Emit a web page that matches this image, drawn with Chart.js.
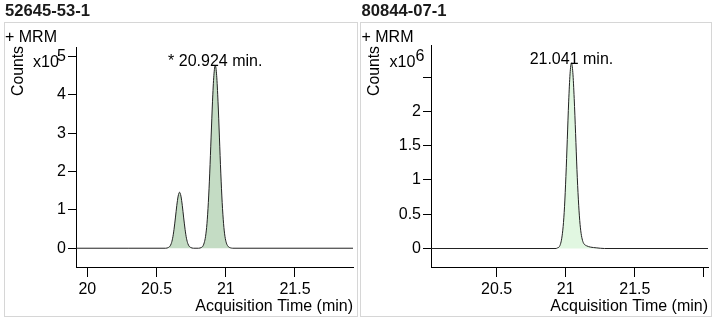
<!DOCTYPE html>
<html>
<head>
<meta charset="utf-8">
<script src="https://cdn.jsdelivr.net/npm/chart.js@4.4.0/dist/chart.umd.min.js"></script>
<style>
body{margin:0;width:716px;height:323px;background:#fff;position:relative;overflow:hidden}
.box{position:absolute;border:1px solid #d6d6d6;box-sizing:border-box}
canvas{position:absolute}
</style>
</head>
<body>

<div class="box" style="left:4px;top:22px;width:354px;height:295px"></div>
<div class="box" style="left:360px;top:22px;width:352px;height:295px"></div>

<canvas id="c1" width="358" height="316" style="left:0;top:0"></canvas>
<canvas id="c2" width="358" height="316" style="left:358px;top:0"></canvas>

<script>
// 52645-53-1, counts x10^5
var leftTimes  = [19.918, 20.3, 20.566, 20.576, 20.586, 20.596, 20.606, 20.616, 20.626, 20.636, 20.646, 20.656,
                  20.666, 20.676, 20.686, 20.696, 20.706, 20.716, 20.726, 20.736, 20.746, 20.756, 20.766,
                  20.804, 20.814, 20.824, 20.834, 20.844, 20.854, 20.864, 20.874, 20.884, 20.894, 20.904,
                  20.914, 20.924, 20.934, 20.944, 20.954, 20.964, 20.974, 20.984, 20.994, 21.004, 21.014,
                  21.024, 21.034, 21.05, 21.919];
var leftCounts = [0, 0, 0, 0.005, 0.02, 0.05, 0.12, 0.26, 0.49, 0.79, 1.11, 1.36,
                  1.46, 1.36, 1.11, 0.79, 0.49, 0.26, 0.12, 0.05, 0.02, 0.005, 0,
                  0, 0.005, 0.02, 0.05, 0.14, 0.31, 0.64, 1.19, 1.96, 2.90, 3.82,
                  4.51, 4.77, 4.51, 3.82, 2.90, 1.96, 1.19, 0.64, 0.31, 0.14, 0.06,
                  0.025, 0.01, 0, 0];
var leftPeakRT     = [20.924];
var leftPeakHeight = [4.77];
var leftPeakText   = ['* 20.924 min.'];

// 80844-07-1, counts x10^6
var rightTimes  = [20.025, 20.93, 20.941, 20.951, 20.961, 20.971, 20.981, 20.991, 21.001, 21.011, 21.021, 21.031,
                   21.041, 21.051, 21.061, 21.071, 21.081, 21.091, 21.101, 21.111, 21.121, 21.131, 21.15,
                   21.18, 21.22, 21.28, 22.029];
var rightCounts = [0, 0, 0.01, 0.02, 0.06, 0.15, 0.32, 0.61, 1.05, 1.59, 2.14, 2.55,
                   2.71, 2.57, 2.19, 1.68, 1.15, 0.72, 0.41, 0.22, 0.12, 0.07, 0.04,
                   0.02, 0.01, 0, 0];
var rightPeakRT     = [21.041];
var rightPeakHeight = [2.71];
var rightPeakText   = ['21.041 min.'];

var FONT = '"Liberation Sans", Arial, sans-serif';

// text over the peak apex
var peakText = {
    id: 'peakText',
    afterDatasetsDraw: function(chart, args, o) {
        var ctx = chart.ctx, x = chart.scales.x, y = chart.scales.y;
        ctx.save();
        ctx.font = '16px ' + FONT;
        ctx.fillStyle = '#000';
        ctx.textAlign = 'center';
        ctx.textBaseline = 'alphabetic';
        for (var i = 0; i < o.rt.length; i++) {
            ctx.fillText(o.text[i], x.getPixelForValue(o.rt[i]), y.getPixelForValue(o.h[i]) + 1);
        }
        ctx.restore();
    }
};

// pick a font size so that the text takes the given width
function fitFont(ctx, weight, text, width) {
    ctx.font = weight + '16px ' + FONT;
    var size = 16 * width / ctx.measureText(text).width;
    ctx.font = weight + size.toFixed(2) + 'px ' + FONT;
}

// compound name, "+ MRM", "Counts" and the x10^n factor
var panelText = {
    id: 'panelText',
    afterDraw: function(chart, args, o) {
        var ctx = chart.ctx, l = o.left;
        ctx.save();
        ctx.textBaseline = 'alphabetic';
        ctx.fillStyle = '#1a1a1a';
        fitFont(ctx, 'bold ', o.title, 85);
        ctx.fillText(o.title, l, 15.5);
        ctx.fillStyle = '#000';
        fitFont(ctx, '', '+ MRM', 52);
        ctx.fillText('+ MRM', l, 41.5);
        fitFont(ctx, '', 'x10', 26);
        ctx.fillText('x10', l + 28, 66.5);
        if (o.exp) ctx.fillText(o.exp, l + 54, 60.5);
        fitFont(ctx, '', 'Counts', 50);
        ctx.translate(l + 13.5, 71);
        ctx.rotate(-Math.PI / 2);
        ctx.textAlign = 'center';
        ctx.textBaseline = 'middle';
        ctx.fillText('Counts', 0, 0);
        ctx.restore();
    }
};

function makeChart(id, times, counts, fillColor, xr, yr, yStep, hideX, hideY, pad, yWidth, peaks, panel) {
    var pts = times.map(function(t, i) { return {x: t, y: counts[i]}; });
    return new Chart(document.getElementById(id), {
        type: 'line',
        data: {
            datasets: [{
                data: pts,
                borderColor: '#222',
                borderWidth: 1,
                backgroundColor: fillColor,
                fill: 'origin',
                pointRadius: 0,
                cubicInterpolationMode: 'monotone'
            }]
        },
        options: {
            responsive: false,
            animation: false,
            events: [],
            layout: { padding: pad },
            plugins: { legend: { display: false }, tooltip: { enabled: false }, peakText: peaks, panelText: panel },
            scales: {
                x: {
                    type: 'linear', min: xr[0], max: xr[1],
                    afterFit: function(s) { s.height = 49; },
                    grid: { drawOnChartArea: false, tickLength: 10, color: '#000' },
                    border: { color: '#000', width: 1 },
                    ticks: {
                        stepSize: 0.5, includeBounds: false, autoSkip: false, maxRotation: 0,
                        color: '#000', padding: 3, font: { family: FONT, size: 16 },
                        callback: function(v) { return hideX.indexOf(v) >= 0 ? '' : String(v); }
                    },
                    title: {
                        display: true, text: 'Acquisition Time (min)', align: 'end', color: '#000',
                        padding: 0, font: { family: FONT, size: 16 }
                    }
                },
                y: {
                    min: yr[0], max: yr[1],
                    afterFit: function(s) { s.width = yWidth; },
                    grid: { drawOnChartArea: false, tickLength: 8, color: '#000' },
                    border: { color: '#000', width: 1 },
                    ticks: {
                        stepSize: yStep, includeBounds: false, color: '#000', padding: 2,
                        font: { family: FONT, size: 16 },
                        callback: function(v) { return hideY.indexOf(v) >= 0 ? '' : String(v); }
                    }
                }
            }
        },
        plugins: [peakText, panelText]
    });
}

makeChart('c1', leftTimes, leftCounts, 'rgb(196,220,196)', [19.918, 21.919], [-0.49, 5.25], 1, [], [],
    { left: 0, right: 5, top: 47, bottom: 0 }, 76,
    { rt: leftPeakRT, h: leftPeakHeight, text: leftPeakText },
    { title: '52645-53-1', left: 5, exp: '' });

makeChart('c2', rightTimes, rightCounts, 'rgb(225,247,225)', [20.025, 22.029], [-0.27, 2.97], 0.5, [22], [2.5],
    { left: 0, right: 8, top: 45, bottom: 0 }, 73,
    { rt: rightPeakRT, h: rightPeakHeight, text: rightPeakText },
    { title: '80844-07-1', left: 3.5, exp: '6' });
</script>
</body>
</html>
